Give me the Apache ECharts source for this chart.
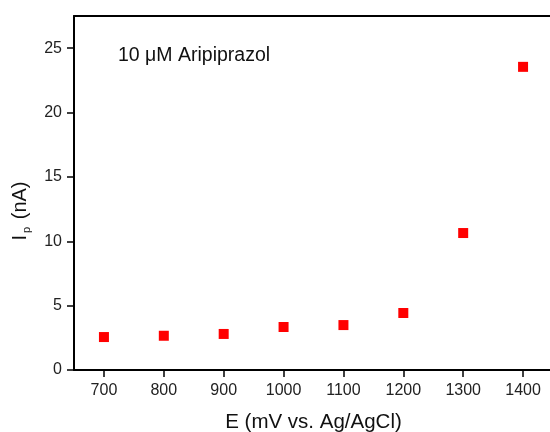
<!DOCTYPE html>
<html><head><meta charset="utf-8">
<script src="https://cdn.jsdelivr.net/npm/echarts@6/dist/echarts.min.js"></script>
<style>html,body{margin:0;padding:0;background:#fff}#c{width:550px;height:432px}</style>
</head><body><div id="c"></div>
<script>
const potentials = [700, 800, 900, 1000, 1100, 1200, 1300, 1400];
const currents = [2.56, 2.66, 2.80, 3.34, 3.49, 4.43, 10.64, 23.55];
const xTicks = [700, 800, 900, 1000, 1100, 1200, 1300, 1400];
const yTicks = [0, 5, 10, 15, 20, 25];
const annotation = '10 μM Aripiprazol';

const chart = echarts.init(document.getElementById('c'), null, {renderer: 'canvas'});
const font = 'Liberation Sans, Arial, sans-serif';
chart.setOption({
  animation: false,
  backgroundColor: '#fff',
  grid: {left: 74, top: 16, right: -3, bottom: 62, show: false, outerBoundsMode: 'none', containLabel: false},
  xAxis: [{
    type: 'value', min: 650, max: 1450, interval: 50,
    axisLine: {show: true, lineStyle: {color: '#000', width: 2}},
    axisTick: {show: true, length: 7, inside: false, lineStyle: {color: '#000', width: 1.5},
      customValues: xTicks},
    axisLabel: {color: '#222', fontSize: 16, fontFamily: font, margin: 13,
      customValues: xTicks, formatter: v => String(v)},
    splitLine: {show: false},
    name: 'E (mV vs. Ag/AgCl)', nameLocation: 'middle', nameGap: 42,
    nameTextStyle: {color: '#111', fontSize: 20.5, fontFamily: font}
  }, {
    type: 'value', min: 650, max: 1450, position: 'top',
    axisLine: {show: true, lineStyle: {color: '#000', width: 2}},
    axisTick: {show: false}, axisLabel: {show: false}, splitLine: {show: false}
  }],
  yAxis: {
    type: 'value', min: 0, max: 27.5, interval: 2.5,
    axisLine: {show: true, lineStyle: {color: '#000', width: 2}},
    axisTick: {show: true, length: 7, lineStyle: {color: '#000', width: 1.5}, customValues: yTicks},
    axisLabel: {color: '#222', fontSize: 16, fontFamily: font, margin: 12, customValues: yTicks,
      formatter: v => String(v)},
    splitLine: {show: false},
    name: 'I{sub|p} (nA)', nameLocation: 'middle', nameGap: 42, nameRotate: 90,
    nameTextStyle: {color: '#111', fontSize: 20, fontFamily: font, padding: [0, 36, 0, 0],
      rich: {sub: {fontSize: 11, fontFamily: font, color: '#111', padding: [12, 2, 0, 2]}}}
  },
  graphic: [{
    type: 'text', left: 118, top: 46,
    style: {text: annotation, fontSize: 19.5, fontFamily: font, fill: '#111'}
  }],
  series: [{
    type: 'scatter',
    data: potentials.map((x, i) => [x, currents[i]]),
    symbol: 'rect', symbolSize: 10,
    itemStyle: {color: '#ff0000', opacity: 1}
  }]
});
</script></body></html>
